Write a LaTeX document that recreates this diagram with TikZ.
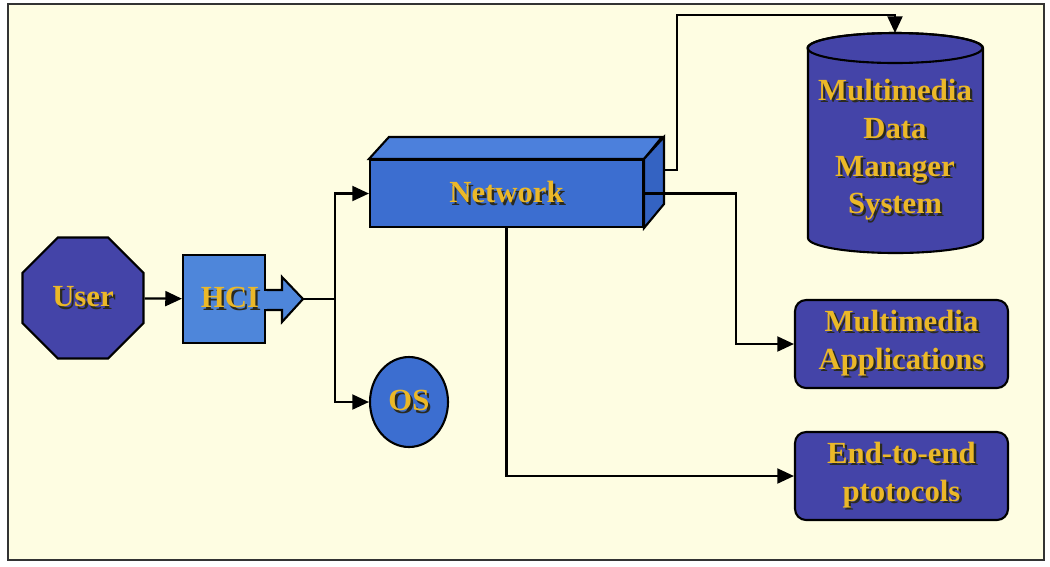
\documentclass[tikz,border=0pt]{standalone}
\usepackage{fontspec}
\setmainfont{Liberation Serif}
\usetikzlibrary{shapes.geometric,arrows.meta}

\definecolor{paper}{HTML}{FEFDE2}
\definecolor{darkblue}{HTML}{4444A8}
\definecolor{midblue}{HTML}{3C6ED0}
\definecolor{lightblue}{HTML}{4E86DA}
\definecolor{topblue}{HTML}{4C80DC}
\definecolor{sideblue}{HTML}{3463C2}
\definecolor{txtgold}{HTML}{EBB828}
\definecolor{txtshadow}{HTML}{2A2A20}

% 带阴影的文字
\newcommand\shtext[1]{\makebox[0pt][l]{\hspace{1.3pt}\raisebox{-1.3pt}{\textcolor{txtshadow}{#1}}}\textcolor{txtgold}{#1}}

\tikzset{
  blk/.style={draw=black, line width=1.2pt, font=\bfseries\fontsize{17.5}{21.5}\selectfont, align=center, inner sep=0pt},
  link/.style={line width=1.3pt},
  arr/.style={line width=1.3pt, -{Triangle[length=9.5pt,width=8.5pt]}}
}

\begin{document}
\begin{tikzpicture}[x=0.02cm,y=-0.02cm]
  \useasboundingbox (0,0) rectangle (1050,566);
  % 外框
  \filldraw[fill=paper, draw=black!80, line width=1.3pt] (8,4) rectangle (1044,560);

  % 用户和 HCI
  \node[blk, regular polygon, regular polygon sides=8, minimum size=2.62cm, fill=darkblue] (user) at (83,298) {\shtext{User}};
  \filldraw[fill=lightblue, draw=black, line width=1.2pt] (265,290) -- (282,290) -- (282,277) -- (303,299) -- (282,322) -- (282,310) -- (265,310);
  \node[blk, rectangle, minimum width=1.64cm, minimum height=1.76cm, fill=lightblue] (hci) at (224,299) {};
  \fill[lightblue] (263,291) rectangle (267,309);
  \node[font=\bfseries\fontsize{17.5}{21.5}\selectfont] (hcitext) at (230,299) {\shtext{HCI}};
  \coordinate (hcitip) at (303,299);
  \coordinate (junc) at (335,299);

  % 网络(立体方块)
  \node[blk, rectangle, minimum width=5.46cm, minimum height=1.34cm, fill=midblue] (net) at (506.5,193.5) {\shtext{Network}};
  \filldraw[fill=topblue, draw=black, line width=1.2pt] (net.north west) -- ++(20,-22) -- ++(273,0) -- (net.north east) -- cycle;
  \filldraw[fill=sideblue, draw=black, line width=1.2pt] (net.north east) -- ++(20,-22) -- ++(0,67) -- (net.south east) -- cycle;
  \coordinate (netside) at (663,170);

  % 操作系统
  \node[blk, ellipse, minimum width=1.56cm, minimum height=1.8cm, fill=midblue] (os) at (409,402) {\shtext{OS}};

  % 数据库(圆柱)
  \filldraw[fill=darkblue, draw=black, line width=1.2pt] (808,48) -- (808,238) arc[start angle=180, end angle=360, x radius=1.75cm, y radius=0.3cm] -- (983,48) arc[start angle=0, end angle=180, x radius=1.75cm, y radius=0.3cm] -- cycle;
  \draw[line width=1.2pt] (895,48) ellipse[x radius=1.75cm, y radius=0.3cm];
  \node[font=\bfseries\fontsize{17.5}{21.5}\selectfont, align=center] (mdms) at (895,151) {\shtext{Multimedia}\\ \shtext{Data}\\ \shtext{Manager}\\ \shtext{System}};
  \coordinate (cyltop) at (895,33);
  \coordinate (cylbend) at (895,15);

  % 应用和协议
  \node[blk, rectangle, rounded corners=0.22cm, minimum width=4.26cm, minimum height=1.76cm, fill=darkblue] (apps) at (901.5,344) {\shtext{Multimedia}\\ \shtext{Applications}};
  \node[blk, rectangle, rounded corners=0.22cm, minimum width=4.26cm, minimum height=1.76cm, fill=darkblue] (proto) at (901.5,476) {\shtext{End-to-end}\\ \shtext{ptotocols}};

  % 连线
  \draw[arr] (user) -- (hci);
  \draw[link] (hcitip) -- (junc);
  \draw[arr] (junc) |- (net.west);
  \draw[arr] (junc) |- (os.west);
  \draw[arr] (netside) -- ++(14,0) |- (cylbend) -- (cyltop);
  \draw[arr] (net.east) -- ++(92,0) |- (apps.west);
  \draw[arr] (net.south) |- (proto.west);
\end{tikzpicture}
\end{document}
